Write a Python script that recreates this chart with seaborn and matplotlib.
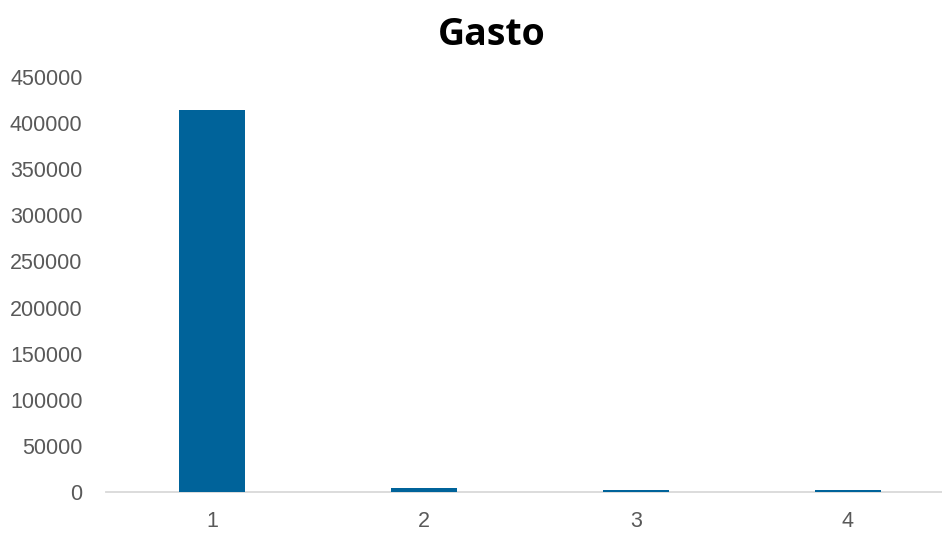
import matplotlib
matplotlib.use("Agg")
import matplotlib.pyplot as plt
import seaborn as sns
import pandas as pd

# Spending per group
categories = ["1", "2", "3", "4"]
gasto = [414000, 4000, 2500, 2500]
y_ticks = [0, 50000, 100000, 150000, 200000, 250000, 300000, 350000, 400000, 450000]

df = pd.DataFrame({"grupo": categories, "gasto": gasto})

sns.set_theme(style="white")
plt.rcParams["font.family"] = ["Liberation Sans", "DejaVu Sans"]

fig = plt.figure(figsize=(9.42, 5.34), dpi=100)
ax = fig.add_axes([106 / 942, 42 / 534, 1 - 106 / 942, 415 / 534])

sns.barplot(data=df, x="grupo", y="gasto", color="#00639A", width=0.316,
            saturation=1, linewidth=0, edgecolor="none", ax=ax)
for patch in ax.patches:
    patch.set_zorder(3)

ax.set_ylim(0, 450000)
ax.set_xlim(-0.5, -0.5 + 836 / 212)
ax.set_yticks(y_ticks)
ax.set_yticklabels([str(v) for v in y_ticks])
ax.set_xlabel("")
ax.set_ylabel("")

for side in ["top", "right", "left"]:
    ax.spines[side].set_visible(False)
ax.spines["bottom"].set_color("#D9D9D9")
ax.spines["bottom"].set_linewidth(1.3)
ax.spines["bottom"].set_zorder(2)

ax.tick_params(axis="both", length=0, labelsize=15.5, colors="#595959")
ax.tick_params(axis="y", pad=17)
ax.tick_params(axis="x", pad=14)

fig.text(492 / 942, 1 - 35 / 534, "Gasto", ha="center", va="center",
         fontsize=27, fontweight="bold", color="black",
         family=["Open Sans", "DejaVu Sans"])

fig.savefig("out.png", dpi=100)
